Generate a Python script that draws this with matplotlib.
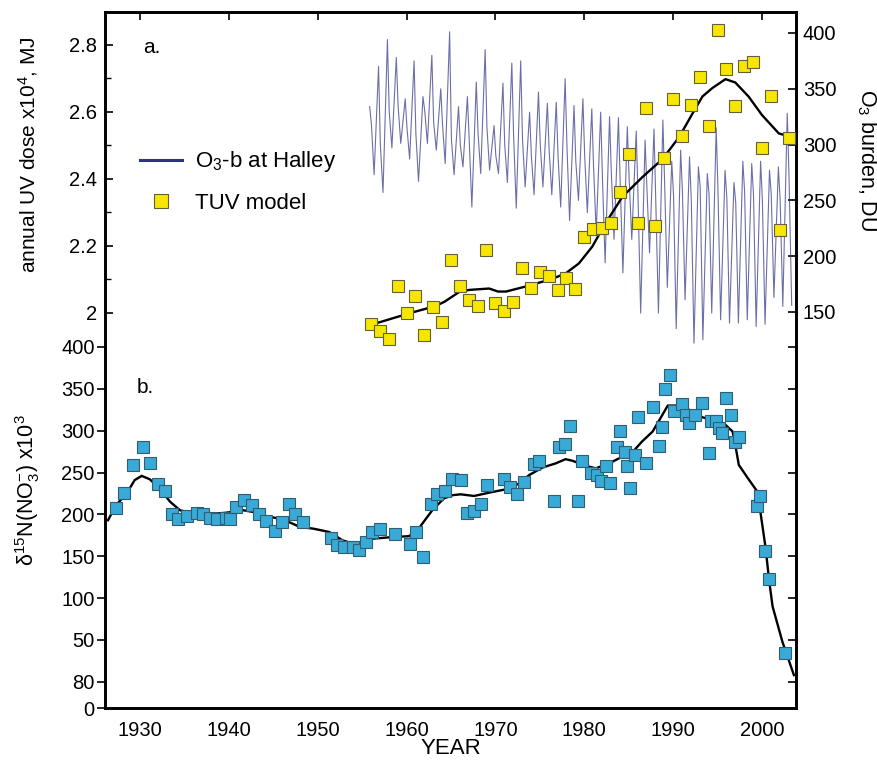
import matplotlib
matplotlib.use("Agg")
import matplotlib.pyplot as plt
from matplotlib.lines import Line2D

plt.rcParams["font.family"] = ["Liberation Sans", "DejaVu Sans"]
plt.rcParams["mathtext.fontset"] = "custom"
plt.rcParams["mathtext.rm"] = "Liberation Sans"
plt.rcParams["mathtext.it"] = "Liberation Sans:italic"
plt.rcParams["mathtext.bf"] = "Liberation Sans:bold"

# --- panel a: O3 burden at Halley, per year: spring high, shoulder, low (DU)
o3_years = list(range(1955, 2003))
o3_high = [334, 370, 394, 378, 341, 375, 343, 380, 350, 401, 334, 343, 356, 385,
           317, 355, 373, 375, 329, 347, 337, 338, 359, 335, 341, 332, 329, 325,
           324, 316, 312, 304, 314, 322, 285, 295, 289, 280, 274, 315, 277, 266,
           285, 283, 285, 277, 280, 328]
o3_mid = [318, 300, 330, 335, 315, 310, 330, 320, 318, 305, 300, 305, 310, 315,
          290, 300, 308, 305, 290, 300, 295, 290, 300, 285, 290, 280, 270, 275,
          265, 270, 255, 262, 250, 265, 255, 258, 250, 262, 255, 260, 252, 248,
          258, 255, 250, 255, 250, 270]
o3_low = [273, 257, 297, 301, 287, 267, 301, 295, 283, 273, 280, 244, 274, 277,
          274, 266, 243, 262, 255, 262, 255, 244, 232, 250, 239, 221, 194, 215,
          185, 215, 149, 203, 149, 172, 135, 161, 122, 125, 149, 143, 140, 140,
          143, 137, 139, 163, 155, 156]

# TUV model annual UV dose (x10^4 MJ)
tuv_years = list(range(1956, 2004))
tuv_dose = [1.967, 1.946, 1.921, 2.081, 1.999, 2.051, 1.934, 2.017, 1.974, 2.158,
            2.081, 2.039, 2.022, 2.188, 2.029, 2.006, 2.032, 2.133, 2.076, 2.123,
            2.111, 2.069, 2.105, 2.072, 2.226, 2.250, 2.255, 2.270, 2.361, 2.474,
            2.268, 2.611, 2.261, 2.462, 2.640, 2.528, 2.620, 2.705, 2.557, 2.845,
            2.727, 2.617, 2.738, 2.748, 2.492, 2.648, 2.248, 2.523]

# smoothed TUV curve
tuv_fit_year = [1956.8, 1960.3, 1963.3, 1964.3, 1966.0, 1967.1, 1969.3, 1970.3,
                1971.2, 1973.4, 1976.3, 1977.9, 1979.4, 1980.9, 1982.4, 1984.3,
                1986.6, 1988.8, 1990.7, 1992.2, 1993.3, 1994.4, 1995.9, 1997.0,
                1998.5, 2000.0, 2001.9, 2003.2]
tuv_fit_dose = [1.971, 1.999, 2.021, 2.034, 2.064, 2.069, 2.073, 2.064, 2.064,
                2.079, 2.101, 2.118, 2.148, 2.198, 2.268, 2.347, 2.407, 2.459,
                2.526, 2.596, 2.646, 2.671, 2.698, 2.688, 2.646, 2.591, 2.536,
                2.526]

# --- panel b: d15N of nitrate
d15n_year = [1927.3, 1928.2, 1929.2, 1930.3, 1931.1, 1932.0, 1932.8, 1933.6, 1934.3,
             1935.3, 1936.4, 1937.1, 1937.9, 1938.7, 1939.7, 1940.1, 1940.8, 1941.7,
             1942.6, 1943.4, 1944.2, 1945.2, 1946.0, 1946.8, 1947.5, 1948.3, 1951.5,
             1952.2, 1953.0, 1954.0, 1954.6, 1955.4, 1956.1, 1957.0, 1958.7, 1960.4,
             1961.1, 1961.8, 1962.7, 1963.4, 1964.3, 1965.1, 1966.1, 1966.8, 1967.6,
             1968.4, 1969.1, 1971.0, 1971.7, 1972.4, 1973.2, 1974.4, 1974.9, 1976.6,
             1977.2, 1977.8, 1978.4, 1979.3, 1979.8, 1980.8, 1981.4, 1981.9, 1982.4,
             1982.9, 1983.7, 1984.0, 1984.6, 1984.8, 1985.2, 1985.7, 1986.1, 1987.0,
             1987.7, 1988.4, 1988.8, 1989.1, 1989.6, 1990.1, 1991.0, 1991.4, 1991.8,
             1992.5, 1993.3, 1994.0, 1994.3, 1994.8, 1995.2, 1995.5, 1996.0, 1996.5,
             1997.0, 1997.4, 1999.4, 1999.8, 2000.3, 2000.8, 2002.6]
d15n_val = [208, 226, 259, 280, 262, 236, 228, 200, 194, 198, 202, 200, 196, 195,
            196, 195, 209, 217, 211, 200, 192, 180, 191, 212, 201, 191, 172, 164,
            161, 161, 157, 167, 179, 182, 176, 165, 179, 149, 212, 224, 228, 242,
            241, 202, 204, 212, 235, 242, 233, 224, 239, 260, 264, 216, 280, 284,
            306, 216, 264, 249, 247, 240, 258, 238, 281, 300, 274, 258, 232, 271,
            316, 262, 328, 282, 305, 350, 367, 323, 332, 319, 309, 319, 333, 273,
            312, 311, 303, 297, 339, 319, 286, 293, 210, 222, 156, 123, 34]

d15n_fit_year = [1926.4, 1927.3, 1928.5, 1929.4, 1930.2, 1931.1, 1932.2, 1933.4,
                 1934.5, 1935.6, 1937.5, 1939.7, 1941.6, 1942.7, 1944.2, 1946.1,
                 1948.0, 1949.5, 1951.3, 1952.8, 1954.0, 1954.9, 1956.2, 1958.5,
                 1960.3, 1961.5, 1962.9, 1964.2, 1965.2, 1966.1, 1967.6, 1969.3,
                 1971.2, 1972.7, 1973.8, 1975.3, 1976.8, 1977.9, 1978.7, 1980.2,
                 1981.3, 1982.8, 1984.3, 1985.4, 1986.5, 1987.7, 1988.8, 1989.4,
                 1990.3, 1991.8, 1993.3, 1994.8, 1995.9, 1996.7, 1997.0, 1997.4,
                 1998.5, 1999.5, 1999.8, 2000.4, 2000.8, 2001.2, 2002.3, 2003.6]
d15n_fit_val = [193, 211, 225, 241, 246, 242, 231, 215, 205, 202, 200, 202, 205,
                203, 198, 194, 185, 183, 179, 169, 165, 166, 171, 173, 174, 185,
                205, 219, 223, 224, 222, 226, 230, 237, 247, 256, 261, 266, 264,
                258, 255, 261, 269, 274, 287, 299, 319, 330, 330, 325, 316, 312,
                307, 299, 283, 259, 242, 227, 205, 161, 122, 90, 48, 8]

decades = [1930, 1940, 1950, 1960, 1970, 1980, 1990, 2000]
uv_ticks = [2.0, 2.2, 2.4, 2.6, 2.8]
uv_labels = ["2", "2.2", "2.4", "2.6", "2.8"]
o3_ticks = [150, 200, 250, 300, 350, 400]
b_ticks = [400, 350, 300, 250, 200, 150, 100, 50, 0, -31.3]
b_labels = ["400", "350", "300", "250", "200", "150", "100", "50", "80", "0"]

NAVY = "#2d3282"
YELLOW = "#f7e600"
BLUE = "#39aad7"
SPINE_W = 1.9
TICK_FS = 14.5
XLIM = (1926.06, 2003.83)

fig = plt.figure(figsize=(8.77, 7.67), dpi=100)
ax_o3 = fig.add_axes([0.1197, 0.5476, 0.7879, 0.4368])
ax_uv = ax_o3.twinx()
ax_b = fig.add_axes([0.1197, 0.0769, 0.7879, 0.4707])
ax_br = ax_b.twinx()

# ozone (drawn in the back axes)
o3_t, o3_v = [], []
for yr, hi, mid, lo in zip(o3_years, o3_high, o3_mid, o3_low):
    o3_t += [yr + 0.85, yr + 1.05, yr + 1.35]
    o3_v += [hi, mid, lo]
ax_o3.plot(o3_t, o3_v, color=NAVY, lw=0.8, alpha=0.7)

ax_uv.plot(tuv_fit_year, tuv_fit_dose, color="black", lw=1.7, zorder=2)
ax_uv.plot(tuv_years, tuv_dose, ls="none", marker="s", ms=8, mfc=YELLOW,
           mec="#62603a", mew=0.8, zorder=3)

ax_b.plot(d15n_fit_year, d15n_fit_val, color="black", lw=1.7, zorder=2)
ax_b.plot(d15n_year, d15n_val, ls="none", marker="s", ms=8, mfc=BLUE,
          mec="#2f5d72", mew=0.8, zorder=3)

for ax in (ax_o3, ax_uv, ax_b, ax_br):
    ax.set_xlim(*XLIM)
    for sp in ax.spines.values():
        sp.set_linewidth(SPINE_W)

for ax in (ax_o3, ax_uv):
    ax.spines["bottom"].set_visible(False)
for ax in (ax_b, ax_br):
    ax.spines["top"].set_visible(False)

# top panel axes
ax_o3.set_ylim(118.6, 418.8)
ax_o3.yaxis.tick_right()
ax_o3.yaxis.set_label_position("right")
ax_o3.set_yticks(o3_ticks)
ax_o3.tick_params(axis="y", direction="in", length=6, width=1.2,
                  labelsize=TICK_FS, pad=5)
ax_o3.xaxis.tick_top()
ax_o3.set_xticks(decades)
ax_o3.tick_params(axis="x", direction="in", length=6, width=1.2,
                  labeltop=False, labelbottom=False)
ax_o3.set_ylabel("O$_3$ burden, DU", fontsize=15.5, rotation=270)
ax_o3.yaxis.set_label_coords(1.1027, 0.558)
ax_o3.yaxis.label.set_verticalalignment("center")

ax_uv.set_ylim(1.8985, 2.8985)
ax_uv.yaxis.tick_left()
ax_uv.yaxis.set_label_position("left")
ax_uv.set_yticks(uv_ticks)
ax_uv.set_yticklabels(uv_labels)
ax_uv.set_yticks([2.1, 2.3, 2.5, 2.7], minor=True)
ax_uv.tick_params(axis="y", which="major", direction="in", length=6, width=1.2,
                  labelsize=TICK_FS, pad=6)
ax_uv.tick_params(axis="y", which="minor", direction="in", length=4, width=1.0)
ax_uv.set_ylabel("annual UV dose x10$^4$, MJ", fontsize=15)
ax_uv.yaxis.set_label_coords(-0.1114, 0.573)
ax_uv.yaxis.label.set_verticalalignment("center")

ax_uv.text(0.055, 0.893, "a.", transform=ax_uv.transAxes, fontsize=15,
           ha="left", va="center")

handles = [Line2D([], [], color=NAVY, lw=2.2),
           Line2D([], [], ls="none", marker="s", ms=10, mfc=YELLOW,
                  mec="#62603a", mew=0.8)]
ax_uv.legend(handles, ["O$_3$-b at Halley", "TUV model"], loc="upper left",
             bbox_to_anchor=(0.05, 0.59), frameon=False, fontsize=16,
             handlelength=1.9, handletextpad=0.6, labelspacing=0.85,
             borderpad=0, borderaxespad=0)

# bottom panel axes
ax_b.set_ylim(-31.3, 400)
ax_b.set_yticks(b_ticks)
ax_b.set_yticklabels(b_labels)
ax_b.tick_params(axis="y", direction="out", length=6, width=1.2,
                 labelsize=TICK_FS, pad=1.5)
ax_b.set_xticks(decades)
ax_b.set_xticklabels([str(d) for d in decades])
ax_b.tick_params(axis="x", length=0, labelsize=TICK_FS, pad=9)
ax_b.set_ylabel("\u03b4$^{15}$N(NO$_3^{-}$) x10$^3$", fontsize=15.5)
ax_b.yaxis.set_label_coords(-0.1114, 0.604)
ax_b.yaxis.label.set_verticalalignment("center")
ax_b.set_xlabel("YEAR", fontsize=16)
ax_b.xaxis.set_label_coords(0.5, -0.111)
ax_b.xaxis.label.set_verticalalignment("center")
ax_b.text(0.046, 0.889, "b.", transform=ax_b.transAxes, fontsize=15,
          ha="left", va="center")

ax_br.set_ylim(-31.3, 400)
ax_br.set_yticks(b_ticks[:-1])
ax_br.tick_params(axis="y", direction="in", length=6, width=1.2,
                  labelright=False)

fig.savefig("out.png", dpi=100)
